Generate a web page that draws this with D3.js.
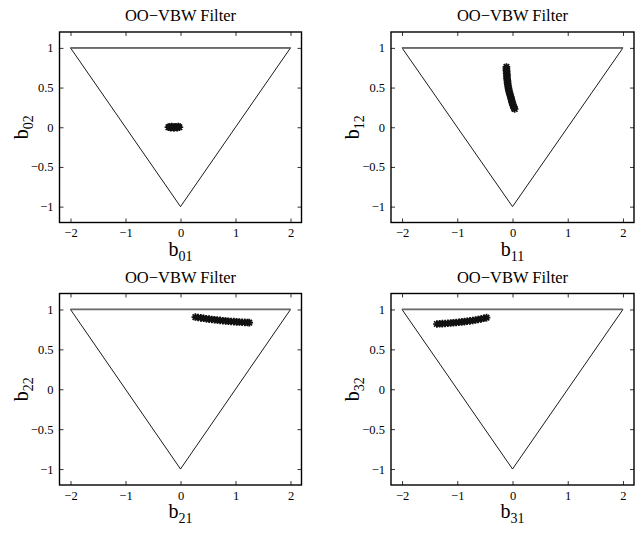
<!DOCTYPE html>
<html>
<head>
<meta charset="utf-8">
<script src="https://cdn.jsdelivr.net/npm/d3@7"></script>
<style>
  body { margin: 0; background: #fff; }
  svg { display: block; }
  text { font-family: "Liberation Serif", "Times New Roman", serif; fill: #000; }
</style>
</head>
<body>
<svg id="chart" width="641" height="533"></svg>
<script>
// tick values shared by all four panels
const xTicks = [-2, -1, 0, 1, 2];
const yTicks = [-1, -0.5, 0, 0.5, 1];
const triX = [-2, 2, 0, -2];
const triY = [1, 1, -1, 1];

// panel labels
const xNames = ["01", "11", "21", "31"];
const yNames = ["02", "12", "22", "32"];

// filter estimates, one cluster per panel
const p0x = [-0.22, -0.2, -0.18, -0.16, -0.14, -0.12, -0.1, -0.08, -0.06, -0.04, -0.02];
const p0y = [0.0, 0.005, -0.005, 0.01, 0.0, -0.01, 0.005, 0.0, -0.005, 0.01, 0.0];

const p1x = [-0.11, -0.11, -0.11, -0.105, -0.105, -0.1, -0.1, -0.1, -0.095, -0.09, -0.09, -0.085, -0.08, -0.075,
  -0.07, -0.065, -0.055, -0.05, -0.04, -0.03, -0.025, -0.015, -0.01, 0.0, 0.01, 0.02, 0.03, 0.04];
const p1y = [0.76, 0.74, 0.72, 0.70, 0.68, 0.66, 0.64, 0.62, 0.60, 0.58, 0.56, 0.54, 0.52, 0.50,
  0.48, 0.46, 0.44, 0.42, 0.40, 0.38, 0.36, 0.34, 0.32, 0.30, 0.28, 0.26, 0.24, 0.23];

const p2x = [0.27, 0.32, 0.37, 0.42, 0.47, 0.52, 0.57, 0.62, 0.67, 0.72, 0.77, 0.82, 0.87, 0.92, 0.97, 1.02,
  1.07, 1.12, 1.17, 1.22, 1.25];
const p2y = [0.905, 0.899, 0.894, 0.889, 0.884, 0.879, 0.875, 0.871, 0.867, 0.863, 0.859, 0.856, 0.853, 0.850,
  0.847, 0.845, 0.842, 0.840, 0.838, 0.836, 0.835];

const p3x = [-1.37, -1.32, -1.27, -1.22, -1.17, -1.12, -1.07, -1.02, -0.97, -0.92, -0.87, -0.82, -0.77, -0.72,
  -0.67, -0.62, -0.57, -0.52, -0.47];
const p3y = [0.818, 0.820, 0.822, 0.824, 0.827, 0.830, 0.833, 0.836, 0.840, 0.844, 0.848, 0.852, 0.857, 0.862,
  0.868, 0.874, 0.881, 0.889, 0.898];

const clusters = [[p0x, p0y], [p1x, p1y], [p2x, p2y], [p3x, p3y]];

const svg = d3.select("#chart");

// axes boxes in pixels: [left, right] per column, [top, bottom] per row
const cols = [[59.5, 301.5], [391, 634]];
const rows = [[32, 222.5], [293.5, 485]];

const fmt = d => d3.format("")(d).replace("-", "\u2212");

clusters.forEach((c, i) => {
  const [x0, x1] = cols[i % 2];
  const [y0, y1] = rows[Math.floor(i / 2)];
  const x = d3.scaleLinear().domain([-2.2, 2.2]).range([x0, x1]);
  const y = d3.scaleLinear().domain([-1.2, 1.2]).range([y1, y0]);
  const g = svg.append("g");

  // triangle (stability region)
  const tri = d3.range(triX.length).map(k => [triX[k], triY[k]]);
  g.append("path")
    .attr("d", d3.line().x(d => x(d[0])).y(d => y(d[1]))(tri))
    .attr("fill", "none")
    .attr("stroke", "#000")
    .attr("stroke-width", 0.9);
  g.append("line")
    .attr("x1", x(triX[0])).attr("x2", x(triX[1]))
    .attr("y1", y(triY[0])).attr("y2", y(triY[1]))
    .attr("stroke", "#6a6a6a")
    .attr("stroke-width", 1.8);

  // star markers
  const s = 3.8;
  const star = `M${-s},0H${s}M0,${-s}V${s}M${-s * 0.72},${-s * 0.72}L${s * 0.72},${s * 0.72}M${-s * 0.72},${s * 0.72}L${s * 0.72},${-s * 0.72}`;
  g.selectAll("path.pt")
    .data(d3.range(c[0].length))
    .join("path")
    .attr("class", "pt")
    .attr("transform", k => `translate(${x(c[0][k])},${y(c[1][k])})`)
    .attr("d", star)
    .attr("stroke", "#111")
    .attr("stroke-width", 1.7)
    .attr("fill", "none");

  // axes, ticks inward on all sides
  const axB = d3.axisBottom(x).tickValues(xTicks).tickSize(-4).tickPadding(6).tickFormat(fmt);
  const axT = d3.axisTop(x).tickValues(xTicks).tickSize(-4).tickFormat("");
  const axL = d3.axisLeft(y).tickValues(yTicks).tickSize(-4).tickPadding(6).tickFormat(fmt);
  const axR = d3.axisRight(y).tickValues(yTicks).tickSize(-4).tickFormat("");
  [[axB, `translate(0,${y1})`], [axT, `translate(0,${y0})`], [axL, `translate(${x0},0)`], [axR, `translate(${x1},0)`]]
    .forEach(([ax, t]) => {
      const a = g.append("g").attr("transform", t).call(ax)
        .attr("font-family", null).attr("font-size", null);
      a.select(".domain").remove();
      a.selectAll(".tick line").attr("stroke", "#000").attr("stroke-width", 0.8);
      a.selectAll(".tick text").style("font-size", "12.5px");
    });

  g.append("rect")
    .attr("x", x0).attr("y", y0)
    .attr("width", x1 - x0).attr("height", y1 - y0)
    .attr("fill", "none")
    .attr("stroke", "#000")
    .attr("stroke-width", 1.4);

  // title
  g.append("text")
    .attr("x", (x0 + x1) / 2)
    .attr("y", y0 - 11)
    .attr("text-anchor", "middle")
    .style("font-size", "16.5px")
    .text("OO\u2212VBW Filter");

  // x label
  const xl = g.append("text")
    .attr("x", (x0 + x1) / 2)
    .attr("y", y1 + 33)
    .attr("text-anchor", "middle")
    .style("font-size", "20px");
  xl.append("tspan").text("b");
  xl.append("tspan").attr("dy", 5).style("font-size", "14px").text(xNames[i]);

  // y label
  const yl = g.append("text")
    .attr("transform", `translate(${x0 - 32},${(y0 + y1) / 2}) rotate(-90)`)
    .attr("text-anchor", "middle")
    .style("font-size", "20px");
  yl.append("tspan").text("b");
  yl.append("tspan").attr("dy", 5).style("font-size", "14px").text(yNames[i]);
});
</script>
</body>
</html>
